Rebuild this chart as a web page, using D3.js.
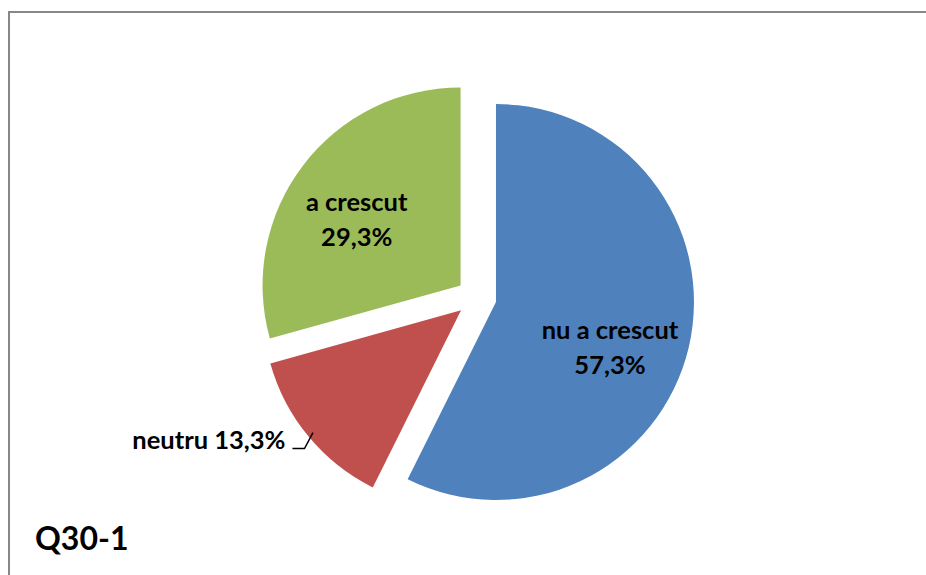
<!DOCTYPE html>
<html>
<head>
<meta charset="utf-8">
<script src="https://cdn.jsdelivr.net/npm/d3@7"></script>
<style>
  html, body { margin: 0; padding: 0; background: #fff; }
  svg { display: block; }
</style>
</head>
<body>
<svg id="chart" width="926" height="575"></svg>
<script>
const categories = ["nu a crescut", "neutru", "a crescut"];
const values = [57.3, 13.3, 29.3];
const valueLabels = ["57,3%", "13,3%", "29,3%"];
const colors = ["#4F81BD", "#C0504D", "#9BBB59"];
const chartTitle = "Q30-1";

const W = 926, H = 575;
const svg = d3.select("#chart");
const font = "Lato, 'Open Sans', sans-serif";
const labelSize = 25.5;

// frame (chart area border, cut by the window at right and bottom)
svg.append("path")
  .attr("d", `M9,${H + 5} L9,12 L${W + 5},12`)
  .attr("fill", "none")
  .attr("stroke", "#878787")
  .attr("stroke-width", 2);

const cx = 476.5, cy = 297.5, R = 198, explode = 20;

const pie = d3.pie().sort(null).value(d => d.value).startAngle(0).endAngle(2 * Math.PI);
const data = categories.map((c, i) => ({ name: c, value: values[i], label: valueLabels[i], color: colors[i] }));
const arcs = pie(data);
const arc = d3.arc().innerRadius(0).outerRadius(R);

const g = svg.append("g").attr("transform", `translate(${cx},${cy})`);

function offsetOf(a) {
  const m = (a.startAngle + a.endAngle) / 2;
  return [Math.sin(m) * explode, -Math.cos(m) * explode];
}

const slices = g.selectAll("g.slice").data(arcs).join("g")
  .attr("class", "slice")
  .attr("transform", d => { const o = offsetOf(d); return `translate(${o[0]},${o[1]})`; });

slices.append("path")
  .attr("d", arc)
  .attr("fill", d => d.data.color);

// inside labels (large slices), placed by a "best fit" style nudge from the mid angle
const deg = Math.PI / 180;
slices.filter(d => d.data.value > 20).each(function(d) {
  const mid = (d.startAngle + d.endAngle) / 2;
  const nudge = d.index === 0 ? 8.5 * deg : -5 * deg;
  const la = mid + nudge;
  const lr = R * 0.62;
  const lx = Math.sin(la) * lr, ly = -Math.cos(la) * lr;
  const t = d3.select(this).append("text")
    .attr("text-anchor", "middle")
    .attr("font-family", font)
    .attr("font-weight", "bold")
    .attr("font-size", labelSize)
    .attr("fill", "#000");
  t.append("tspan").attr("x", lx).attr("y", ly - 8.5).text(d.data.name);
  t.append("tspan").attr("x", lx).attr("y", ly + 26.5).text(d.data.label);
});

// outside label with leader line (small slice)
slices.filter(d => d.data.value <= 20).each(function(d) {
  const sel = d3.select(this);
  const ang = (d.startAngle + d.endAngle) / 2;
  const p0 = [Math.sin(ang) * R * 0.97, -Math.cos(ang) * R * 0.97];
  const p1 = [p0[0] - 8.5, p0[1] + 16];
  const p2 = [p1[0] - 12, p1[1]];
  sel.append("polyline")
    .attr("points", [p0, p1, p2].map(p => p.join(",")).join(" "))
    .attr("fill", "none")
    .attr("stroke", "#000")
    .attr("stroke-width", 1.5);
  sel.append("text")
    .attr("x", p2[0] - 7)
    .attr("y", p2[1])
    .attr("text-anchor", "end")
    .attr("font-family", font)
    .attr("font-weight", "bold")
    .attr("font-size", labelSize)
    .attr("fill", "#000")
    .text(`${d.data.name} ${d.data.label}`);
});

svg.append("text")
  .attr("x", 35)
  .attr("y", 550)
  .attr("font-family", font)
  .attr("font-weight", "bold")
  .attr("font-size", 32)
  .attr("fill", "#000")
  .text(chartTitle);
</script>
</body>
</html>
